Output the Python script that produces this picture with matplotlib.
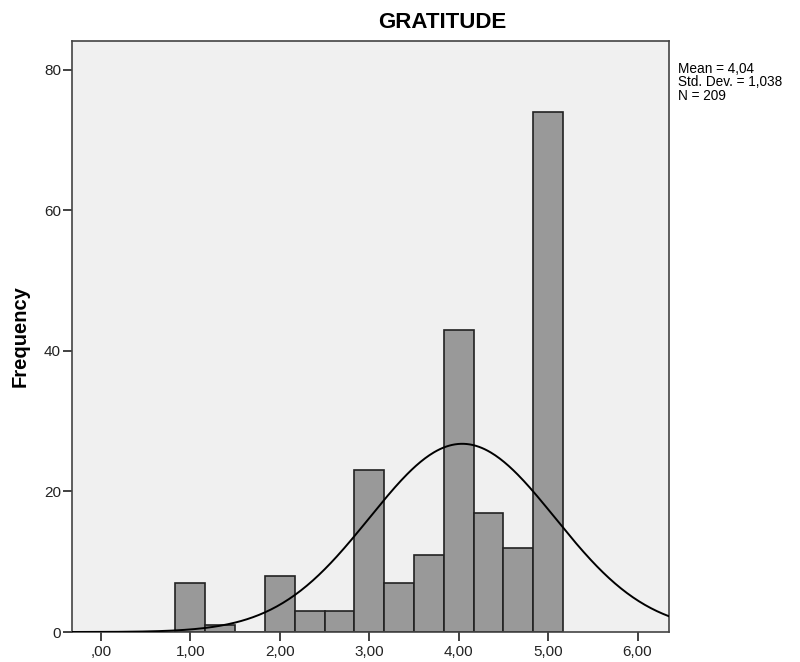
import numpy as np
import matplotlib
matplotlib.use('Agg')
import matplotlib.pyplot as plt

plt.rcParams['font.family'] = ['Liberation Sans', 'DejaVu Sans']

# histogram bins (width 1/3) and counts
bin_left = [0.8333, 1.1667, 1.5, 1.8333, 2.1667, 2.5, 2.8333,
            3.1667, 3.5, 3.8333, 4.1667, 4.5, 4.8333]
counts = [7, 1, 0, 8, 3, 3, 23, 7, 11, 43, 17, 12, 74]
bin_width = 1 / 3

mean = 4.04
std = 1.038
n = 209

x_ticks = [0, 1, 2, 3, 4, 5, 6]
x_labels = [',00', '1,00', '2,00', '3,00', '4,00', '5,00', '6,00']
y_ticks = [0, 20, 40, 60, 80]

fig = plt.figure(figsize=(8, 6.62), dpi=100)
ax = fig.add_axes([0.09, 0.0453, 0.746, 0.893])
ax.set_facecolor('#f0f0f0')

ax.bar(bin_left, counts, width=bin_width, align='edge',
       color='#999999', edgecolor='#222222', linewidth=1.2, zorder=2)

# normal curve scaled to counts
xlim = (-0.324, 6.35)
xs = np.linspace(xlim[0], xlim[1], 400)
ys = n * bin_width / (std * np.sqrt(2 * np.pi)) * np.exp(-0.5 * ((xs - mean) / std) ** 2)
ax.plot(xs, ys, color='black', linewidth=1.4, zorder=3)

ax.set_xlim(*xlim)
ax.set_ylim(0, 84.1)
ax.set_xticks(x_ticks)
ax.set_xticklabels(x_labels)
ax.set_yticks(y_ticks)

for s in ax.spines.values():
    s.set_color('#444444')
    s.set_linewidth(1.2)

ax.tick_params(axis='both', direction='out', length=6.5, width=1.3,
               color='#333333', labelsize=11, labelcolor='#222222')
ax.tick_params(axis='x', pad=3)
ax.tick_params(axis='y', pad=1.5)

ax.set_ylabel('Frequency', fontsize=14.5, fontweight='bold', labelpad=10)

fig.text(442 / 800, 1 - 22 / 662, 'GRATITUDE', ha='center', va='center',
         fontsize=16, fontweight='bold')

fig.text(678 / 800, 1 - 62 / 662,
         'Mean = 4,04\nStd. Dev. = 1,038\nN = 209',
         ha='left', va='top', fontsize=9.8, linespacing=0.95)

fig.savefig('out.png', dpi=100)
